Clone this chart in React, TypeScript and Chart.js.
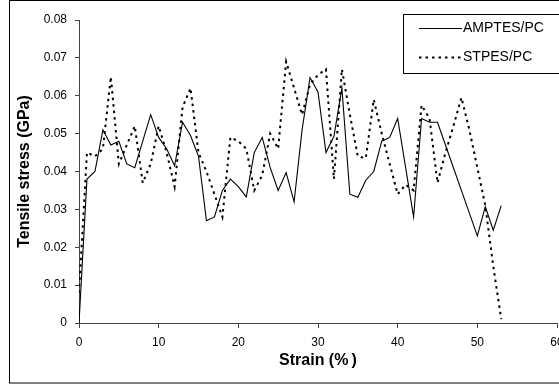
import React, { useEffect, useRef } from "react";
import { Chart, registerables } from "chart.js";

Chart.register(...registerables);

const strainValues: number[] = [
  0, 1, 2, 3, 4, 5, 6, 7, 8, 9, 10, 11, 12, 13, 14, 15, 16, 17, 18, 19, 20,
  21, 22, 23, 24, 25, 26, 27, 28, 29, 30, 31, 32, 33, 34, 35, 36, 37, 38, 39,
  40, 41, 42, 43, 44, 45, 46, 47, 48, 49, 50, 51, 52, 53,
];

const amptesStress: number[] = [
  0, 0.038, 0.04, 0.051, 0.047, 0.048, 0.042, 0.041, 0.048, 0.055, 0.049,
  0.046, 0.0415, 0.053, 0.0495, 0.044, 0.027, 0.028, 0.035, 0.038, 0.036,
  0.0333, 0.045, 0.049, 0.041, 0.035, 0.0397, 0.032, 0.051, 0.0648, 0.061,
  0.045, 0.0493, 0.062, 0.034, 0.0332, 0.0377, 0.04, 0.048, 0.049, 0.054,
  0.041, 0.028, 0.054, 0.053, 0.053, 0.047, 0.041, 0.035, 0.029, 0.023,
  0.0307, 0.0245, 0.031,
];

const stpesStress: number[] = [
  0.008, 0.045, 0.044, 0.046, 0.065, 0.042, 0.047, 0.052, 0.037, 0.042, 0.052,
  0.045, 0.036, 0.057, 0.062, 0.045, 0.04, 0.034, 0.028, 0.049, 0.048, 0.046,
  0.035, 0.039, 0.05, 0.046, 0.069, 0.062, 0.055, 0.063, 0.0655, 0.067,
  0.038, 0.067, 0.055, 0.044, 0.0435, 0.059, 0.05, 0.042, 0.034, 0.0365,
  0.035, 0.0575, 0.054, 0.037, 0.045, 0.052, 0.0595, 0.051, 0.041, 0.031,
  0.015, 0.001,
];

const seriesLabels: string[] = ["AMPTES/PC", "STPES/PC"];
const xTitle = "Strain (%\u2009)";
const yTitle = "Tensile stress (GPa)";

const FONT = "'Liberation Sans', Arial, sans-serif";

const framePlugin = {
  id: "frameAndLegend",
  afterDraw(chart: any) {
    const ctx = chart.ctx;
    ctx.save();
    ctx.strokeStyle = "#000";
    ctx.lineWidth = 1;
    ctx.setLineDash([]);
    ctx.strokeRect(9.5, 0.5, 700, 382.5);

    // legend box
    ctx.fillStyle = "#fff";
    ctx.fillRect(403.5, 14.5, 200, 59);
    ctx.strokeRect(403.5, 14.5, 200, 59);

    const ds = chart.data.datasets;
    const rows = [28.5, 57.5];
    ds.forEach((d: any, i: number) => {
      const y = rows[i];
      ctx.beginPath();
      ctx.strokeStyle = "#000";
      ctx.lineWidth = d.borderWidth;
      ctx.setLineDash(d.borderDash || []);
      ctx.moveTo(419, y);
      ctx.lineTo(462, y);
      ctx.stroke();
      ctx.setLineDash([]);
      ctx.fillStyle = "#000";
      ctx.font = `14px ${FONT}`;
      ctx.textBaseline = "middle";
      ctx.textAlign = "left";
      ctx.fillText(d.label, 463, y);
    });
    ctx.restore();
  },
};

export default function App() {
  const ref = useRef<HTMLCanvasElement | null>(null);

  useEffect(() => {
    document.body.style.margin = "0";
    const canvas = ref.current;
    if (!canvas) return;
    const chart = new Chart(canvas, {
      type: "line",
      data: {
        datasets: [
          {
            label: seriesLabels[0],
            data: strainValues.map((x, i) => ({ x, y: amptesStress[i] })),
            borderColor: "#000",
            borderWidth: 1.1,
            pointRadius: 0,
            tension: 0,
            fill: false,
          },
          {
            label: seriesLabels[1],
            data: strainValues.map((x, i) => ({ x, y: stpesStress[i] })),
            borderColor: "#000",
            borderWidth: 2,
            borderDash: [2.5, 4],
            pointRadius: 0,
            tension: 0,
            fill: false,
          },
        ],
      },
      options: {
        responsive: false,
        animation: false,
        devicePixelRatio: 1,
        layout: { padding: { left: 0, right: 2, top: 20, bottom: 0 } },
        plugins: {
          legend: { display: false },
          tooltip: { enabled: false },
        },
        scales: {
          x: {
            type: "linear",
            min: 0,
            max: 60,
            ticks: {
              stepSize: 10,
              color: "#000",
              padding: 7,
              font: { family: FONT, size: 12 },
              maxRotation: 0,
            },
            grid: {
              drawOnChartArea: false,
              drawTicks: true,
              tickLength: 5,
              color: "#444",
            },
            border: { display: true, color: "#444", width: 1 },
            title: {
              display: true,
              text: xTitle,
              color: "#000",
              font: { family: FONT, size: 16, weight: "bold" },
              padding: { top: 0, bottom: 18 },
            },
            afterFit(scale: any) {
              scale.height = 65;
              scale.paddingLeft = 0;
              scale.paddingRight = 0;
            },
          },
          y: {
            type: "linear",
            min: 0,
            max: 0.08,
            ticks: {
              stepSize: 0.01,
              color: "#000",
              padding: 8,
              font: { family: FONT, size: 12 },
              callback: (v: any) => (Number(v) === 0 ? "0" : Number(v).toFixed(2)),
            },
            grid: {
              drawOnChartArea: false,
              drawTicks: true,
              tickLength: 4,
              color: "#444",
            },
            border: { display: true, color: "#444", width: 1 },
            title: {
              display: true,
              text: yTitle,
              color: "#000",
              font: { family: FONT, size: 16, weight: "bold" },
              padding: { top: 15, bottom: 0 },
            },
            afterFit(scale: any) {
              scale.width = 79;
              scale.paddingTop = 0;
              scale.paddingBottom = 0;
            },
          },
        },
      },
      plugins: [framePlugin],
    } as any);
    return () => chart.destroy();
  }, []);

  return (
    <div style={{ width: 559, height: 388, background: "#fff" }}>
      <canvas ref={ref} width={559} height={388} style={{ display: "block" }} />
    </div>
  );
}
